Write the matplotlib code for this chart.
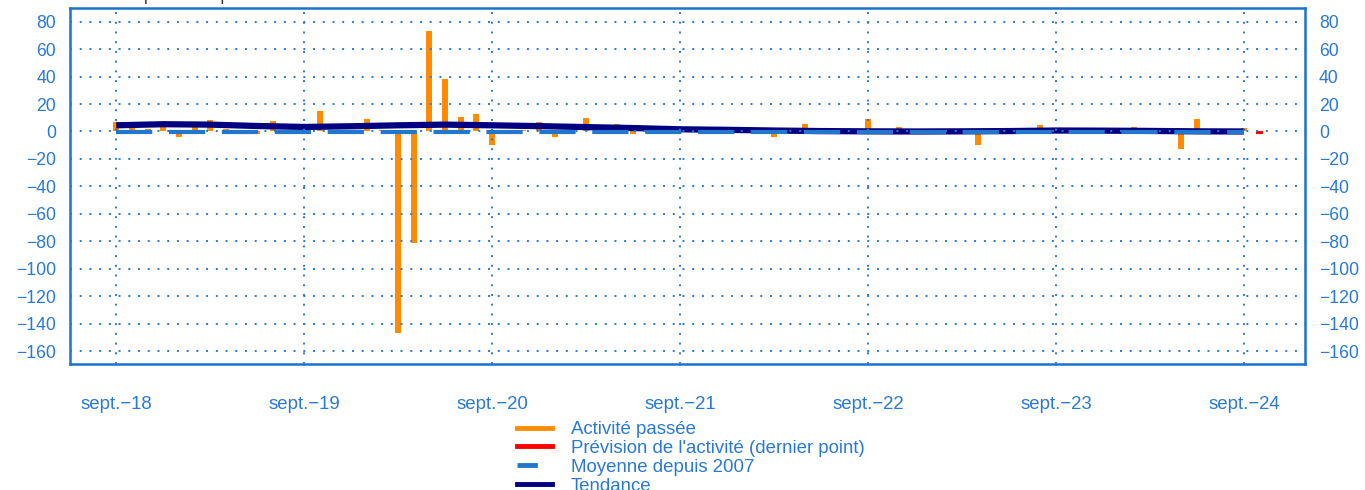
import numpy as np
import matplotlib
matplotlib.use("Agg")
import matplotlib.pyplot as plt
from matplotlib.lines import Line2D

plt.rcParams['font.family'] = ['Liberation Sans', 'DejaVu Sans']

# monthly activity, sept-18 .. sept-24 (73 months)
activite = [7, 3, 2, 3, -4, 7, 8.5, 2, 1, -2, 7.5, 1,
            0, 15, 0, 0, 9.3, 1, -147, -81, 73, 38, 10.4, 12.9,
            -9.5, -1, 1, 7.2, -4, 1, 9.7, 1, 5.6, -2, 0, 0,
            0, 0, 3.6, 2, 3, 0, -4, 0, 5.6, 0, 0, -1,
            8.8, -1, 3.6, 0, 1, -2, 0, -9.5, 0, 0, 0, 4.4,
            0, 0, -1, 0, -1, 3, 0, 0, -13, 9.3, -2, 0,
            2.5]
prevision = [-2]          # oct-24, last point forecast
moyenne = -0.2            # average since 2007
tendance_mois = [0, 3, 6, 9, 12, 15, 18, 21, 24, 27, 30, 33, 36, 39, 42,
                 45, 48, 51, 54, 57, 60, 63, 66, 69, 72]
tendance = [4.5, 5.3, 5.0, 4.0, 3.3, 3.8, 4.5, 5.0, 4.5, 3.9, 3.2, 2.5, 1.6,
            1.2, 0.7, 0.3, 0.1, 0.0, 0.1, 0.3, 0.7, 0.6, 0.4, 0.1, 0.0]
tick_labels = ['sept.\u221218', 'sept.\u221219', 'sept.\u221220', 'sept.\u221221',
               'sept.\u221222', 'sept.\u221223', 'sept.\u221224']
legende = ['Activit\u00e9 pass\u00e9e', "Pr\u00e9vision de l'activit\u00e9 (dernier point)",
           'Moyenne depuis 2007', 'Tendance']

blue_txt = '#2a7ad2'
c_orange, c_red, c_mean, c_trend = '#ff8c00', '#ff0000', '#2277cc', '#000080'
mois = np.arange(len(activite))

fig = plt.figure(figsize=(13.65, 4.9), dpi=100)
ax = fig.add_axes([0.0513, 0.257, 0.9047, 0.7267])

ax.bar(mois, activite, width=0.38, color=c_orange, zorder=1)
ax.bar([len(activite)], prevision, width=0.45, color=c_red, zorder=1)
ax.plot(tendance_mois, tendance, color=c_trend, lw=4.5, zorder=2, solid_capstyle='butt')
ax.plot([0, len(activite) - 1], [moyenne, moyenne], color=c_mean, lw=3.0, zorder=3,
        dashes=(8.7, 4.0), dash_capstyle='butt')

ax.set_xlim(-2.95, 75.9)
ax.set_ylim(-169.5, 90)
ax.set_yticks(np.arange(-160, 81, 20))
ax.set_xticks(np.arange(0, 73, 12))
ax.set_xticklabels(tick_labels)

ax.set_axisbelow(False)
ax.grid(True, color=blue_txt, linestyle=(0, (1, 4)), linewidth=1.4)
for s in ax.spines.values():
    s.set_color('#1a73cc')
    s.set_linewidth(1.8)
ax.tick_params(axis='both', length=0, labelsize=12.7, labelcolor=blue_txt)
ax.tick_params(axis='y', labelright=True, pad=10)
ax.tick_params(axis='x', pad=23, labelsize=13.4)

handles = [Line2D([], [], color=c_orange, lw=3.5),
           Line2D([], [], color=c_red, lw=3.5),
           Line2D([], [], color=c_mean, lw=3.5, dashes=(4.2, 4.0), dash_capstyle='butt'),
           Line2D([], [], color=c_trend, lw=3.5)]
fig.legend(handles, legende, loc='upper left',
           bbox_to_anchor=(517 / 1365, 1 - 421 / 490), frameon=False,
           fontsize=13.4, labelcolor=blue_txt, handlelength=1.9, handletextpad=1.0,
           labelspacing=0.1, borderpad=0, borderaxespad=0)

fig.text(0.052, 1 - 4 / 490, "Solde d'opinion en points", color='#333333',
         fontsize=12.7, va='bottom', ha='left')

fig.savefig('out.png', dpi=100)
